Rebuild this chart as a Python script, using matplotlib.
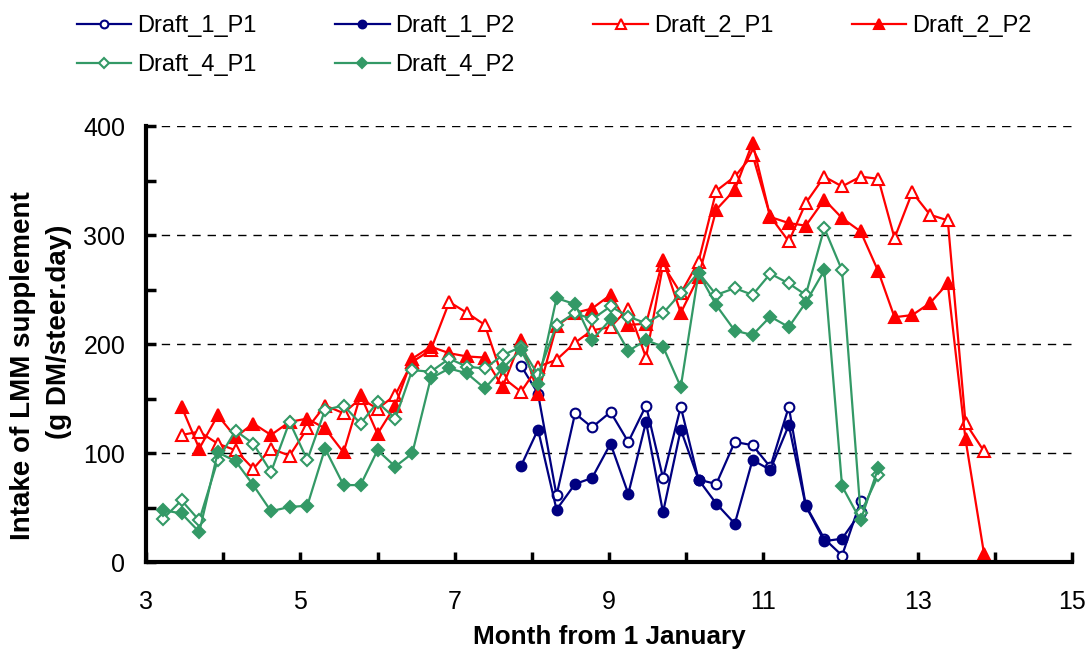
import numpy as np
import matplotlib.pyplot as plt
from matplotlib.ticker import FixedLocator, MultipleLocator

plt.rcParams['font.family'] = ['Liberation Sans', 'DejaVu Sans']

# weekly sampling dates (month from 1 January)
month = [3.22, 3.46, 3.69, 3.93, 4.16, 4.39, 4.62, 4.86, 5.09, 5.32, 5.56, 5.78,
         6.00, 6.23, 6.45, 6.69, 6.93, 7.16, 7.39, 7.62, 7.86, 8.08, 8.32, 8.56,
         8.78, 9.02, 9.25, 9.48, 9.70, 9.93, 10.16, 10.39, 10.63, 10.86, 11.09,
         11.33, 11.55, 11.79, 12.02, 12.26, 12.49, 12.70, 12.93, 13.16, 13.39,
         13.62, 13.86]

draft1_p1 = [180.5, 155, 61.6, 136.7, 124, 138, 110.6, 144, 77.5, 142.8,
             76, 72, 110.6, 107.6, 87.6, 142.8, 52.4, 21.8, 6.4, 56]
draft1_p2 = [88.6, 122, 48.5, 72, 77.5, 109, 63, 129, 46, 122,
             76, 54, 35.6, 94, 85, 126, 51.8, 19.6, 21.8, 46]

draft2_p1 = [117, 120, 109, 103, 86, 104.5, 98, 123, 144, 137, 150.5, 141,
             153.5, 184, 195, 239, 229, 218, 170, 156.6, 179.6, 186, 201.7,
             213, 216, 233, 188, 273, 247, 276, 341, 354, 374, 317.5, 294.5,
             329.8, 354, 345, 354, 352, 297.6, 339.6, 319, 313.9, 128, 102]
draft2_p2 = [143, 104.5, 135, 115, 127.5, 117, 129, 132, 123, 101, 153.5, 118,
             144, 187, 198, 192, 189, 188, 161, 204, 155, 217, 229, 233, 245.5,
             218, 219, 277.7, 229, 262, 323.7, 342, 385, 317, 311.4, 309,
             332.9, 316, 303.7, 267, 225, 227, 238, 256, 113, 8]

draft4_p1 = [40, 57, 38.6, 94, 121, 109, 83, 129, 94, 140, 144, 127.5, 147,
             132, 176.5, 175, 187, 179.6, 178, 190, 198, 172, 218, 229, 223,
             235, 225.6, 219.5, 228.7, 247, 266, 245.5, 251.7, 245.5, 265, 256,
             245.5, 306.8, 268, 45, 80]
draft4_p2 = [48, 45, 28, 101, 93, 71, 47, 51, 52, 104.5, 71, 71, 103, 88, 100,
             169, 178, 173.5, 159.7, 178, 195, 164, 242.5, 237, 204, 223, 194,
             204, 198, 161, 265.5, 236, 212.7, 208.7, 225.6, 216, 238.5, 268,
             70, 38.6, 87]

navy = '#000080'
red = '#ff0000'
green = '#339966'

W, H = 1088, 652
fig = plt.figure(figsize=(W / 100, H / 100), dpi=100)
ax = fig.add_axes([0.1342, 0.1373, 0.8511, 0.6687])

m1 = month[20:40]
m2 = month[1:47]
m4 = month[0:41]

ms = 7
lw = 1.6
series = [
    (m1, draft1_p1, 'Draft_1_P1', dict(color=navy, marker='o', mfc='white', mec=navy)),
    (m1, draft1_p2, 'Draft_1_P2', dict(color=navy, marker='o', mfc=navy, mec=navy)),
    (m2, draft2_p1, 'Draft_2_P1', dict(color=red, marker='^', mfc='white', mec=red, ms=ms + 2)),
    (m2, draft2_p2, 'Draft_2_P2', dict(color=red, marker='^', mfc=red, mec=red, ms=ms + 2)),
    (m4, draft4_p1, 'Draft_4_P1', dict(color=green, marker='D', mfc='white', mec=green, ms=ms - 0.5)),
    (m4, draft4_p2, 'Draft_4_P2', dict(color=green, marker='D', mfc=green, mec=green, ms=ms - 0.5)),
]
lines = {}
for x, y, name, st in series:
    st.setdefault('ms', ms)
    lines[name] = ax.plot(x, y, lw=lw, mew=1.5, label=name, **st)[0]

ax.set_xlim(3, 15)
ax.set_ylim(0, 400)
ax.xaxis.set_major_locator(FixedLocator([3, 5, 7, 9, 11, 13, 15]))
ax.xaxis.set_minor_locator(MultipleLocator(1))
ax.yaxis.set_major_locator(MultipleLocator(100))
ax.yaxis.set_minor_locator(MultipleLocator(50))
ax.tick_params(which='both', direction='in', width=2.5, length=7, labelsize=18)
ax.tick_params(axis='y', which='major', pad=15)
ax.tick_params(axis='x', which='major', pad=20)

for v in [100, 200, 300, 400]:
    ax.axhline(v, color='black', lw=1, ls=(0, (6, 5)), zorder=0)

ax.spines['top'].set_visible(False)
ax.spines['right'].set_visible(False)
ax.spines['left'].set_linewidth(3)
ax.spines['bottom'].set_linewidth(3)

ax.set_xlabel('Month from 1 January', fontsize=18.8, fontweight='bold', labelpad=8)
# two-line y title, each line placed on its own
fig.text(23 / W, 1 - 366 / H, 'Intake of LMM supplement', rotation=90,
         fontsize=20, fontweight='bold', ha='center', va='center')
fig.text(59 / W, 1 - 332 / H, '(g DM/steer.day)', rotation=90,
         fontsize=20, fontweight='bold', ha='center', va='center')

# legend filled column by column: 4 columns, 2 rows
order = ['Draft_1_P1', 'Draft_4_P1', 'Draft_1_P2', 'Draft_4_P2', 'Draft_2_P1', 'Draft_2_P2']
fig.legend([lines[k] for k in order], order, loc='upper left',
           bbox_to_anchor=(77 / W, 1 - 15 / H), ncol=4, frameon=False,
           fontsize=17, handlelength=2.3, handletextpad=0.25, columnspacing=3.33,
           labelspacing=0.72, markerscale=0.8, borderpad=0, borderaxespad=0)

fig.savefig('out.png', dpi=100)
